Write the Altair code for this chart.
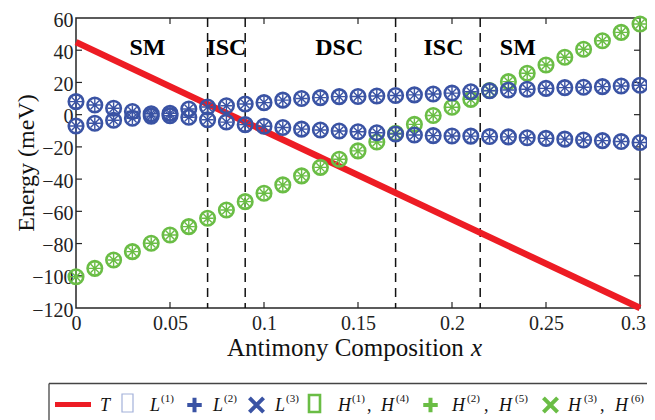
import altair as alt
import pandas as pd

# ---------------- data ----------------
x_vals = [0.00, 0.01, 0.02, 0.03, 0.04, 0.05, 0.06, 0.07, 0.08, 0.09, 0.10,
          0.11, 0.12, 0.13, 0.14, 0.15, 0.16, 0.17, 0.18, 0.19, 0.20,
          0.21, 0.22, 0.23, 0.24, 0.25, 0.26, 0.27, 0.28, 0.29, 0.30]
L_upper = [8.1, 6.0, 4.0, 2.0, 0.6, 0.8, 3.5, 4.8, 5.5, 6.6, 7.5,
           9.0, 10.0, 10.6, 11.2, 11.3, 11.6, 11.9, 12.3, 12.8, 13.4,
           14.2, 14.8, 15.3, 15.8, 16.3, 16.8, 17.0, 17.4, 17.8, 18.3]
L_lower = [-7.0, -5.3, -3.5, -2.2, -0.9, -0.7, -1.6, -3.2, -4.6, -6.2, -7.2,
           -8.0, -9.0, -9.5, -10.1, -10.6, -11.2, -12.0, -12.6, -13.0, -13.2,
           -13.3, -13.6, -13.8, -14.3, -14.7, -15.2, -15.7, -16.1, -16.7, -17.3]
H_vals = [-100.6, -95.4, -90.2, -85.0, -79.8, -74.7, -69.5, -64.3, -59.2, -54.0, -48.8,
          -43.6, -38.0, -32.7, -27.7, -22.5, -17.0, -11.5, -6.0, -0.5, 4.6,
          9.5, 15.0, 20.5, 25.7, 30.8, 35.6, 40.6, 45.9, 51.1, 56.3]
T_x = [0.0, 0.3]
T_y = [45.0, -120.0]
boundaries = [0.07, 0.09, 0.17, 0.215]
region_labels = ["SM", "ISC", "DSC", "ISC", "SM"]
region_x = [0.038, 0.080, 0.140, 0.1955, 0.235]
region_y = [41.5, 41.5, 41.5, 41.5, 41.5]
x_ticks = [0, 0.05, 0.1, 0.15, 0.2, 0.25, 0.3]
y_ticks = [-120, -100, -80, -60, -40, -20, 0, 20, 40, 60]

# ---------------- style ----------------
W, H = 564, 290
LEFT, TOP = 76, 18          # page position of plot origin
SERIF = "Liberation Serif, Times New Roman, serif"
RED = "#ED1C24"
BLUE = "#3A53A4"
GREEN = "#6ABD45"
LIGHTBLUE = "#A3B1DA"
INK = "#262626"
SPOKES = ("M-0.83,0L0.83,0M0,-0.83L0,0.83"
          "M-0.59,-0.59L0.59,0.59M-0.59,0.59L0.59,-0.59")
PLUS = "M-1,0L1,0M0,-1L0,1"
CROSS = "M-1,-1L1,1M-1,1L1,-1"

xs = alt.Scale(domain=[0, 0.3], nice=False, zero=False)
ys = alt.Scale(domain=[-120, 60], nice=False, zero=False)
xaxis = alt.Axis(values=x_ticks, format="~g", ticks=False, domain=False, grid=False,
                 title=None, labelFont=SERIF, labelFontSize=20, labelColor="#222",
                 labelPadding=5, labelFlush=False,
                 labelOffset={"condition": {"test": "datum.value >= 0.299", "value": -7},
                              "value": 0})
yaxis = alt.Axis(values=y_ticks, ticks=False, domain=False, grid=False, title=None,
                 labelFont=SERIF, labelFontSize=20, labelColor="#222",
                 labelPadding=3, labelOffset=2, labelFlush=False)

def X(field):
    return alt.X(f"{field}:Q", scale=xs, axis=xaxis)

def Y(field):
    return alt.Y(f"{field}:Q", scale=ys, axis=yaxis)

one = alt.Data(values=[{"k": 1}])

def px(v):
    return alt.value(v - LEFT)

def py(v):
    return alt.value(v - TOP)

# ---------------- tables ----------------
blue_df = pd.DataFrame({"x": x_vals + x_vals, "E": L_upper + L_lower})
green_df = pd.DataFrame({"x": x_vals, "E": H_vals})
t_df = pd.DataFrame({"x": T_x, "E": T_y})
b_df = pd.DataFrame({"x": boundaries})
reg_df = pd.DataFrame({"x": region_x, "E": region_y, "lab": region_labels})
xt_df = pd.DataFrame({"t": x_ticks[1:-1]})
yt_df = pd.DataFrame({"t": y_ticks[1:-1]})

layers = []

# inward ticks on all four sides
layers.append(alt.Chart(xt_df).mark_rule(color=INK, strokeWidth=1.2).encode(
    x=X("t"), y=alt.value(H), y2=alt.value(H - 6)))
layers.append(alt.Chart(xt_df).mark_rule(color=INK, strokeWidth=1.2).encode(
    x=X("t"), y=alt.value(0), y2=alt.value(6)))
layers.append(alt.Chart(yt_df).mark_rule(color=INK, strokeWidth=1.2).encode(
    y=Y("t"), x=alt.value(0), x2=alt.value(6)))
layers.append(alt.Chart(yt_df).mark_rule(color=INK, strokeWidth=1.2).encode(
    y=Y("t"), x=alt.value(W), x2=alt.value(W - 6)))

# dashed phase boundaries
layers.append(alt.Chart(b_df).mark_rule(color="#111", strokeWidth=1.5, strokeDash=[9, 6]).encode(
    x=X("x"), y=alt.value(0), y2=alt.value(H)))

# region labels
layers.append(alt.Chart(reg_df).mark_text(font=SERIF, fontSize=24, fontWeight="bold",
                                          color="#000", align="center", baseline="middle").encode(
    x=X("x"), y=Y("E"), text="lab:N"))

# T line
layers.append(alt.Chart(t_df).mark_line(color=RED, strokeWidth=6.5).encode(x=X("x"), y=Y("E")))

# H (green) then L (blue) markers
for df, col in ((green_df, GREEN), (blue_df, BLUE)):
    layers.append(alt.Chart(df).mark_point(shape="circle", filled=False, size=210,
                                           strokeWidth=2.6, color=col, opacity=1).encode(
        x=X("x"), y=Y("E")))
    layers.append(alt.Chart(df).mark_point(shape=SPOKES, filled=False, size=210,
                                           strokeWidth=1.4, color=col, opacity=1).encode(
        x=X("x"), y=Y("E")))

# axis titles
layers.append(alt.Chart(one).mark_text(text="Energy (meV)", font=SERIF, fontSize=24, angle=270,
                                       align="center", baseline="alphabetic", color="#111").encode(
    x=px(34), y=py(163)))
layers.append(alt.Chart(one).mark_text(text="Antimony Composition", font=SERIF, fontSize=25,
                                       align="left", baseline="alphabetic", color="#111").encode(
    x=px(227), y=py(356)))
layers.append(alt.Chart(one).mark_text(text="x", font=SERIF, fontSize=25, fontStyle="italic",
                                       align="left", baseline="alphabetic", color="#111").encode(
    x=px(471), y=py(356)))

# ---------------- legend ----------------
layers.append(alt.Chart(one).mark_rule(color="#444", strokeWidth=1.3).encode(
    x=px(49), x2=px(700), y=py(383.5)))
layers.append(alt.Chart(one).mark_rule(color="#444", strokeWidth=1.3).encode(
    x=px(49), y=py(383.5), y2=py(440)))

layers.append(alt.Chart(one).mark_rule(color=RED, strokeWidth=5).encode(
    x=px(55), x2=px(91), y=py(404.5)))
layers.append(alt.Chart(one).mark_rect(stroke=LIGHTBLUE, strokeWidth=1.2, fillOpacity=0).encode(
    x=px(122), x2=px(133), y=py(394), y2=py(412)))
layers.append(alt.Chart(one).mark_rect(stroke=GREEN, strokeWidth=2.6, fillOpacity=0).encode(
    x=px(309), x2=px(320), y=py(395), y2=py(412)))
for shape, col, cx in ((PLUS, BLUE, 194.5), (CROSS, BLUE, 256.5),
                       (PLUS, GREEN, 430.5), (CROSS, GREEN, 550.5)):
    layers.append(alt.Chart(one).mark_point(shape=shape, filled=False, size=210 if shape == PLUS else 200,
                                            strokeWidth=4, color=col, opacity=1).encode(
        x=px(cx), y=py(405)))

legend_main = [("T", 100), ("L", 150), ("L", 213), ("L", 275),
               ("H", 338), ("H", 381), ("H", 452), ("H", 499), ("H", 568), ("H", 615)]
legend_sup = [("(1)", 161), ("(2)", 224), ("(3)", 286),
              ("(1)", 352), ("(4)", 396), ("(2)", 467), ("(5)", 515), ("(3)", 584), ("(6)", 631)]
legend_comma = [367, 484, 600]
for s, lx in legend_main:
    layers.append(alt.Chart(one).mark_text(text=s, font=SERIF, fontSize=18, fontStyle="italic",
                                           align="left", baseline="alphabetic", color="#111").encode(
        x=px(lx), y=py(410.5)))
for s, lx in legend_sup:
    layers.append(alt.Chart(one).mark_text(text=s, font=SERIF, fontSize=11,
                                           align="left", baseline="alphabetic", color="#111").encode(
        x=px(lx), y=py(402)))
for lx in legend_comma:
    layers.append(alt.Chart(one).mark_text(text=",", font=SERIF, fontSize=18,
                                           align="left", baseline="alphabetic", color="#111").encode(
        x=px(lx), y=py(410.5)))

chart = alt.layer(*layers).properties(
    width=W, height=H,
    autosize=alt.AutoSizeParams(type="none"),
    padding={"left": 68, "top": 10, "right": 7, "bottom": 112},
    background="white",
).configure_view(stroke=INK, strokeWidth=1.5)

chart.save("out.html", embed_options={"renderer": "svg", "actions": False})
